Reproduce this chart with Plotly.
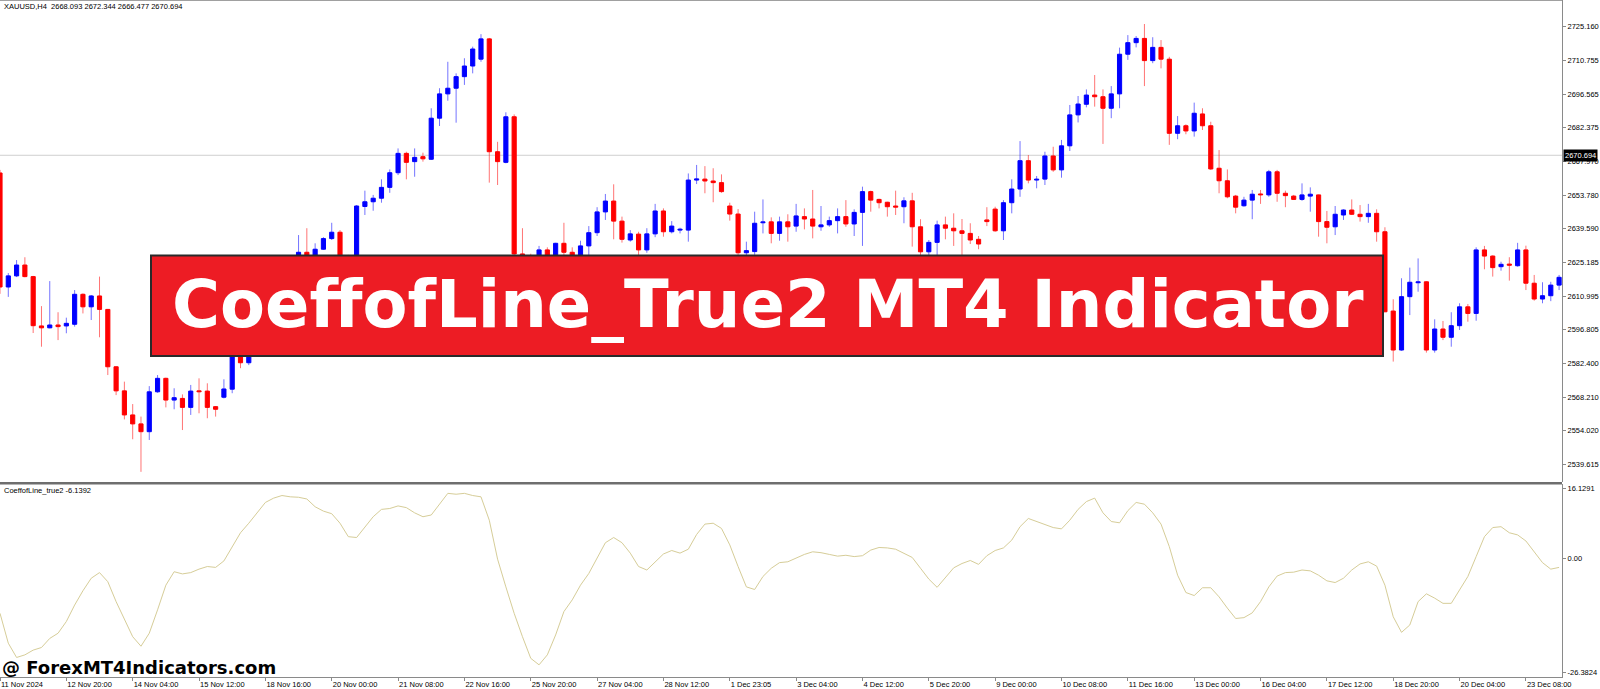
import plotly.graph_objects as go

# ---------------- data ----------------
opens = [2663.2,2614.9,2619.6,2624.2,2619.3,2598.4,2597.6,2598.8,2598.4,2599.1,
 2611.8,2606.5,2611.1,2605.4,2581.1,2570.9,2560.7,2556.9,2553.6,2570.5,
 2576.2,2567.0,2567.7,2563.9,2570.9,2570.8,2564.2,2568.2,2571.6,2591.5,
 2582.8,2589.5,2595.8,2602.5,2599.8,2612.8,2620.4,2629.6,2626.2,2630.9,
 2635.4,2638.1,2625.8,2624.2,2649.0,2651.0,2652.5,2657.1,2663.3,2671.5,
 2668.0,2670.1,2669.0,2686.4,2696.7,2699.1,2704.0,2708.5,2711.4,2720.0,
 2672.2,2667.7,2687.0,2628.9,2627.5,2622.0,2630.6,2626.0,2633.4,2629.6,
 2628.0,2632.3,2637.9,2646.7,2651.3,2642.8,2634.8,2637.3,2630.6,2637.4,
 2647.1,2638.3,2639.0,2639.0,2660.2,2660.6,2659.8,2659.1,2649.2,2645.8,
 2629.4,2629.9,2642.1,2642.5,2637.6,2642.5,2640.7,2644.7,2643.7,2640.4,
 2641.2,2643.0,2644.7,2641.6,2646.5,2655.3,2652.0,2650.8,2649.2,2648.9,
 2651.4,2640.4,2629.8,2633.8,2641.2,2639.8,2638.7,2637.6,2635.1,2643.3,
 2647.9,2638.7,2650.6,2656.4,2668.4,2660.2,2660.6,2670.4,2664.5,2674.7,
 2687.8,2692.3,2696.2,2695.5,2690.6,2696.7,2713.5,2718.4,2720.2,2710.8,
 2716.4,2711.4,2680.0,2683.2,2681.0,2688.2,2683.2,2665.2,2659.9,2653.4,
 2649.3,2651.7,2654.3,2653.9,2663.7,2654.6,2653.4,2652.0,2653.4,2653.9,
 2642.6,2640.4,2645.4,2647.5,2645.7,2644.7,2646.1,2638.3,2604.7,2588.2,
 2610.8,2616.7,2617.1,2588.2,2597.1,2593.6,2598.5,2606.5,2603.7,2630.6,
 2628.0,2623.5,2624.6,2623.9,2630.6,2616.5,2609.8,2611.2,2615.7]
highs = [2664.5,2620.8,2626.3,2627.5,2619.6,2606.8,2617.4,2604.2,2601.9,2613.6,
 2612.2,2611.5,2619.3,2605.6,2581.3,2574.8,2565.3,2560.0,2572.9,2577.6,
 2576.5,2572.0,2569.4,2573.4,2576.2,2574.1,2564.4,2575.8,2594.0,2593.5,
 2591.0,2597.0,2604.0,2606.0,2614.5,2622.5,2636.9,2639.8,2633.4,2636.0,
 2642.1,2639.0,2628.5,2649.6,2655.7,2653.9,2660.5,2664.7,2673.6,2672.2,
 2673.6,2671.8,2690.6,2699.1,2710.3,2705.4,2711.8,2716.7,2722.0,2720.4,
 2676.4,2688.9,2688.0,2639.8,2629.0,2632.3,2631.7,2633.6,2642.1,2631.7,
 2634.5,2640.7,2648.7,2654.3,2658.4,2644.7,2639.0,2638.3,2639.8,2650.1,
 2648.2,2642.8,2640.0,2663.0,2666.6,2666.1,2665.2,2662.6,2650.6,2647.9,
 2634.1,2646.8,2652.0,2644.4,2644.7,2645.7,2650.1,2648.2,2656.0,2649.2,
 2644.7,2648.2,2651.7,2647.8,2657.4,2655.7,2652.3,2651.0,2655.7,2652.9,
 2654.8,2643.6,2634.8,2643.0,2644.7,2646.1,2643.7,2641.9,2636.5,2648.7,
 2648.9,2651.7,2660.5,2676.7,2670.8,2661.9,2672.2,2674.3,2677.2,2692.0,
 2695.8,2698.6,2704.7,2698.6,2700.0,2716.3,2721.6,2721.2,2726.3,2720.7,
 2719.5,2712.4,2687.3,2683.8,2693.0,2690.6,2684.9,2672.9,2664.7,2653.9,
 2653.1,2656.0,2656.0,2664.5,2664.5,2655.7,2653.9,2658.8,2657.1,2654.0,
 2647.1,2649.2,2647.8,2652.0,2649.6,2650.1,2647.8,2640.2,2609.7,2618.6,
 2623.1,2627.0,2617.3,2601.2,2600.5,2604.2,2608.0,2607.7,2631.7,2632.3,
 2628.3,2625.6,2627.5,2633.6,2632.4,2620.0,2616.9,2617.1,2620.0]
lows = [2612.0,2610.7,2619.1,2619.0,2595.4,2589.6,2597.4,2592.4,2595.3,2598.1,
 2603.7,2600.9,2593.6,2577.6,2569.1,2558.8,2550.4,2536.6,2550.1,2570.1,
 2563.9,2563.1,2554.3,2560.7,2561.4,2559.3,2560.0,2567.7,2569.9,2580.5,
 2581.8,2587.0,2593.0,2597.0,2598.0,2610.0,2618.5,2623.5,2624.0,2630.7,
 2634.8,2623.0,2620.5,2622.5,2645.4,2647.2,2650.6,2654.8,2662.3,2660.5,
 2661.6,2668.0,2668.7,2683.1,2693.8,2684.5,2700.5,2705.4,2710.3,2659.1,
 2658.1,2667.3,2618.0,2621.0,2619.0,2619.5,2623.0,2624.0,2627.0,2625.0,
 2626.0,2628.0,2636.5,2643.3,2635.1,2633.7,2634.1,2628.0,2629.4,2636.0,
 2636.2,2637.6,2637.6,2634.1,2658.5,2654.6,2650.8,2654.8,2643.0,2627.0,
 2626.0,2628.5,2637.6,2633.4,2634.5,2634.1,2638.3,2639.3,2635.5,2638.7,
 2640.4,2637.6,2640.4,2636.5,2632.3,2646.8,2648.2,2644.7,2645.4,2641.9,
 2632.0,2626.5,2628.0,2626.8,2635.1,2632.3,2625.5,2633.1,2630.9,2640.7,
 2638.3,2634.8,2646.1,2653.1,2658.8,2656.7,2658.1,2663.7,2661.2,2672.5,
 2684.6,2691.0,2691.3,2675.5,2686.4,2690.6,2711.1,2716.4,2700.0,2709.7,
 2707.5,2675.1,2677.5,2679.6,2678.6,2681.4,2664.5,2654.6,2652.5,2646.1,
 2648.9,2643.6,2650.1,2653.1,2651.0,2648.7,2651.8,2651.4,2646.8,2636.2,
 2633.4,2636.9,2643.3,2645.4,2642.6,2642.1,2634.1,2604.2,2583.3,2587.9,
 2603.0,2612.9,2587.1,2587.1,2592.4,2589.6,2596.7,2600.2,2600.6,2622.4,
 2619.3,2621.8,2617.6,2623.5,2613.6,2609.1,2608.0,2608.9,2613.6]
closes = [2614.9,2619.6,2624.2,2619.3,2598.5,2597.6,2598.8,2598.1,2599.5,2611.8,
 2606.5,2611.1,2605.4,2581.1,2570.9,2560.7,2556.9,2553.6,2570.5,2576.2,
 2567.0,2568.0,2563.9,2570.8,2570.5,2563.9,2563.1,2571.7,2591.5,2582.8,
 2589.5,2595.8,2602.5,2599.8,2612.8,2620.4,2629.6,2626.2,2630.9,2635.4,
 2638.1,2625.8,2624.2,2649.2,2651.0,2652.5,2657.1,2663.3,2671.5,2667.7,
 2669.8,2669.2,2686.4,2696.7,2699.1,2704.0,2708.5,2715.7,2720.0,2672.2,
 2668.0,2687.0,2628.9,2627.5,2622.0,2630.6,2626.0,2633.4,2629.6,2628.0,
 2632.3,2637.9,2646.7,2651.3,2642.8,2635.1,2637.4,2630.6,2637.4,2647.1,
 2638.3,2640.7,2639.4,2660.2,2660.7,2659.8,2659.1,2655.3,2645.8,2629.4,
 2630.3,2641.9,2642.5,2637.6,2642.5,2640.4,2645.0,2643.7,2640.7,2641.2,
 2643.0,2644.7,2641.6,2646.5,2655.3,2651.7,2650.6,2648.9,2648.7,2651.4,
 2640.4,2629.8,2633.8,2641.2,2639.8,2638.7,2637.6,2634.8,2633.1,2642.6,
 2638.7,2650.6,2656.4,2668.4,2660.2,2660.6,2670.4,2664.5,2674.7,2687.8,
 2692.4,2696.2,2695.5,2690.6,2696.7,2713.5,2718.4,2720.2,2710.8,2716.4,
 2711.4,2680.0,2683.2,2681.0,2688.5,2683.2,2664.9,2659.9,2653.1,2648.7,
 2651.7,2654.2,2653.9,2663.7,2654.6,2653.6,2652.0,2653.9,2654.2,2642.6,
 2640.2,2645.7,2647.5,2645.7,2644.7,2646.1,2638.3,2604.4,2588.2,2610.8,
 2616.9,2617.1,2588.2,2597.1,2593.6,2598.5,2606.5,2603.7,2630.6,2628.0,
 2623.1,2624.5,2624.1,2630.6,2616.5,2609.8,2611.2,2615.7,2619.0]

coeff = [-12.7,-19.6,-22.9,-22.3,-21.2,-20.6,-18.5,-17.3,-14.6,-10.8,
 -7.5,-4.6,-3.3,-5.4,-10.0,-14.2,-18.1,-20.3,-17.3,-11.9,
 -6.2,-3.1,-3.6,-3.3,-2.5,-1.9,-2.1,-0.6,2.8,5.9,
 8.1,10.5,12.9,13.9,14.5,14.2,14.1,13.7,11.9,10.9,
 10.3,8.1,5.0,4.8,7.3,9.6,11.3,11.5,12.1,11.7,
 10.5,9.6,10.0,12.5,15.0,14.8,15.0,14.5,14.2,8.8,
 -0.2,-6.6,-12.7,-18.1,-23.1,-24.6,-22.3,-17.7,-12.3,-9.6,
 -6.2,-3.5,0.0,3.6,4.8,3.6,1.2,-1.9,-2.7,-0.8,
 1.0,1.8,1.2,2.1,5.5,7.9,8.1,6.9,3.1,-1.9,
 -6.6,-7.2,-4.2,-2.3,-1.0,-0.8,0.1,0.9,1.5,1.3,
 0.9,0.5,0.7,0.4,0.6,1.9,2.5,2.4,2.1,1.2,
 0.2,-2.3,-4.8,-6.7,-4.4,-2.2,-1.2,-0.5,-1.4,0.6,
 1.8,2.4,4.2,7.3,9.2,8.5,7.7,7.1,6.8,8.8,
 11.3,13.1,13.9,10.5,8.5,8.2,11.0,12.9,12.5,10.5,
 7.9,2.7,-3.9,-7.9,-8.6,-6.8,-6.8,-8.9,-11.5,-13.9,
 -13.7,-12.6,-10.0,-6.6,-4.1,-3.3,-3.2,-2.7,-2.9,-3.9,
 -5.2,-5.6,-4.6,-2.7,-1.3,-0.8,-1.8,-6.2,-13.5,-17.1,
 -15.4,-10.0,-8.2,-9.2,-10.4,-10.4,-7.3,-4.2,0.4,5.0,
 7.1,7.3,5.9,5.4,4.0,1.5,-1.0,-2.5,-2.1]

time_labels = ["11 Nov 2024","12 Nov 20:00","14 Nov 04:00","15 Nov 12:00","18 Nov 16:00",
 "20 Nov 00:00","21 Nov 08:00","22 Nov 16:00","25 Nov 20:00","27 Nov 04:00","28 Nov 12:00",
 "1 Dec 23:05","3 Dec 04:00","4 Dec 12:00","5 Dec 20:00","9 Dec 00:00","10 Dec 08:00",
 "11 Dec 16:00","13 Dec 00:00","16 Dec 04:00","17 Dec 12:00","18 Dec 20:00","20 Dec 04:00",
 "23 Dec 08:00"]
time_label_bars = [0,8,16,24,32,40,48,56,64,72,80,88,96,104,112,120,128,136,144,152,160,168,176,184]

price_ticks = [2725.160,2710.755,2696.565,2682.375,2667.970,2653.780,2639.590,2625.185,
 2610.995,2596.805,2582.400,2568.210,2554.020,2539.615]
ind_ticks = [16.1291, 0.0, -26.3824]
ind_tick_text = ["16.1291", "0.00", "-26.3824"]
bid_price = 2670.694
header = "XAUUSD,H4  2668.093 2672.344 2666.477 2670.694"
ind_label = "CoeffofLine_true2 -6.1392"
banner_text = "CoeffofLine_True2 MT4 Indicator"
watermark = "@ ForexMT4Indicators.com"

# ---------------- geometry helpers ----------------
W, H = 1600, 689
def PX(x): return x / W
def PY(y): return 1 - y / H

idx = list(range(len(opens)))
up = [c >= o for o, c in zip(opens, closes)]

fig = go.Figure()

# wicks
for flag, col in ((True, "rgba(0,0,255,0.55)"), (False, "rgba(255,0,0,0.55)")):
    wx, wy = [], []
    for i in idx:
        if up[i] == flag:
            wx += [i, i, None]
            wy += [lows[i], highs[i], None]
    fig.add_trace(go.Scatter(x=wx, y=wy, mode="lines", line=dict(color=col, width=1),
                             hoverinfo="skip", showlegend=False, xaxis="x", yaxis="y"))

# bodies
for flag, col in ((True, "#0000FF"), (False, "#FF0000")):
    bx = [i for i in idx if up[i] == flag]
    base = [min(opens[i], closes[i]) for i in bx]
    hgt = [abs(closes[i] - opens[i]) for i in bx]
    fig.add_trace(go.Bar(x=bx, y=hgt, base=base, width=0.5,
                         marker=dict(color=col, line=dict(color=col, width=1)),
                         hoverinfo="skip", showlegend=False, xaxis="x", yaxis="y"))

# indicator line
fig.add_trace(go.Scatter(x=idx, y=coeff, mode="lines", line=dict(color="#D6CD98", width=1),
                         hoverinfo="skip", showlegend=False, xaxis="x2", yaxis="y2"))

XR = [0, 1562 / 8.293]
xdom = [0, PX(1562)]
small = dict(family="Liberation Sans, Arial, sans-serif", size=7.5, color="black")
axcol = "#8a8a8a"

fig.update_layout(
    width=W, height=H, margin=dict(l=0, r=0, t=0, b=0),
    paper_bgcolor="white", plot_bgcolor="white", barmode="overlay",
    showlegend=False, hovermode=False,
    xaxis=dict(domain=xdom, range=XR, anchor="y", showticklabels=False, showgrid=False,
               zeroline=False, showline=False, ticks="", automargin=False, fixedrange=True),
    yaxis=dict(domain=[PY(482), 1], range=[2532.29, 2736.47], side="right", anchor="x",
               tickvals=price_ticks, ticktext=[f"{v:.3f}" for v in price_ticks],
               ticks="outside", ticklen=3, tickcolor=axcol, tickfont=small,
               showline=True, linecolor=axcol, linewidth=1, showgrid=False,
               zeroline=False, automargin=False, fixedrange=True),
    xaxis2=dict(domain=xdom, range=XR, anchor="y2", tickvals=time_label_bars,
                ticktext=time_labels, ticks="outside", ticklen=3, tickcolor=axcol,
                ticklabelposition="outside right", tickfont=small, tickangle=0,
                showline=True, linecolor=axcol, linewidth=1, showgrid=False,
                zeroline=False, automargin=False, fixedrange=True),
    yaxis2=dict(domain=[PY(677), PY(484)], range=[-27.41, 17.16], side="right", anchor="x2",
                tickvals=ind_ticks, ticktext=ind_tick_text, ticks="outside", ticklen=3,
                tickcolor=axcol, tickfont=small, showline=True, linecolor=axcol,
                linewidth=1, showgrid=False, zeroline=False, automargin=False,
                fixedrange=True),
)

shapes = [
    # top frame line
    dict(type="line", xref="paper", yref="paper", x0=0, x1=PX(1562), y0=PY(0.5), y1=PY(0.5),
         line=dict(color="#a0a0a0", width=1)),
    # bid line
    dict(type="line", xref="x domain", yref="y", x0=0, x1=1, y0=bid_price, y1=bid_price,
         line=dict(color="#cfcfcf", width=1), layer="below"),
    # panel separator
    dict(type="line", xref="paper", yref="paper", x0=0, x1=PX(1562), y0=PY(483.3), y1=PY(483.3),
         line=dict(color="#6e6e6e", width=2.5)),
    # banner
    dict(type="rect", xref="paper", yref="paper", x0=PX(151), x1=PX(1383), y0=PY(356),
         y1=PY(255.5), fillcolor="#ED1C24", line=dict(color="#2a2a2a", width=2), layer="above"),
]
fig.update_layout(shapes=shapes)

annotations = [
    dict(text=header, xref="paper", yref="paper", x=PX(2), y=PY(6.5), xanchor="left",
         yanchor="middle", showarrow=False, font=small),
    dict(text=ind_label, xref="paper", yref="paper", x=PX(2), y=PY(490.5), xanchor="left",
         yanchor="middle", showarrow=False, font=small),
    dict(text=f"{bid_price:.3f}", xref="paper", yref="y", x=PX(1563), y=bid_price,
         xanchor="left", yanchor="middle", showarrow=False, bgcolor="black",
         font=dict(family="Liberation Sans, Arial, sans-serif", size=7.5, color="white"),
         borderpad=1),
    dict(text=banner_text, xref="paper", yref="paper", x=PX(768), y=PY(305),
         xanchor="center", yanchor="middle", showarrow=False,
         font=dict(family="DejaVu Sans", size=65.5, color="white", weight="bold")),
    dict(text=watermark, xref="paper", yref="paper", x=PX(0), y=PY(667.5),
         xanchor="left", yanchor="middle", showarrow=False,
         font=dict(family="DejaVu Sans", size=18, color="black", weight="bold")),
]
fig.update_layout(annotations=annotations)

fig.write_html("out.html", config={"displayModeBar": False, "staticPlot": True},
               post_script="document.body.style.margin='0';document.body.style.padding='0';"
                           "document.body.style.overflow='hidden';")
